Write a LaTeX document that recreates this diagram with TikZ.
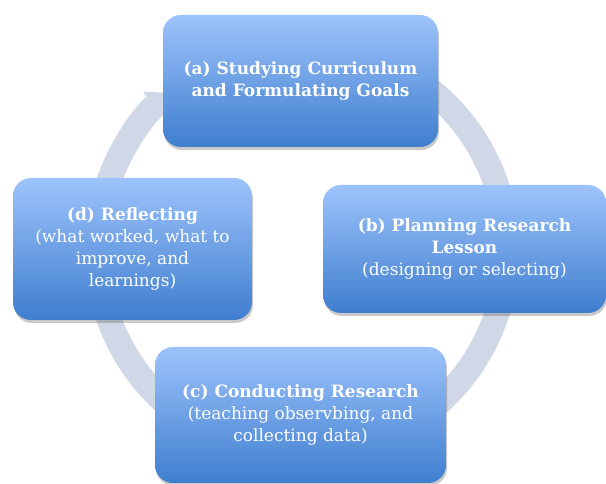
\documentclass[tikz,border=0pt]{standalone}
\usepackage{fontspec}
\setmainfont{DejaVu Serif}
\usetikzlibrary{arrows.meta,shadows}

\definecolor{boxtop}{HTML}{9DC3FC}
\definecolor{boxbottom}{HTML}{3F7ECE}
\definecolor{ringgray}{HTML}{D0D8E8}

\begin{document}
\begin{tikzpicture}[x=1pt,y=1pt,
		stagebox/.style={rounded corners=18pt,top color=boxtop,bottom color=boxbottom,
			text=white,align=center,inner sep=0pt,font=\fontsize{17}{22}\selectfont,
			drop shadow={shadow xshift=1pt,shadow yshift=-3pt,opacity=0.3,fill=black!70}},
		ringarrow/.style={line width=25pt,ringgray,-{Triangle[width=36pt,length=20pt]}}]
				\useasboundingbox (0,0) rectangle (606,484);
				\coordinate (ctr) at (302,234);
				
				%Kreispfeil zeichnen
				\draw[ringarrow] ([shift={(ctr)}]70:205) arc[start angle=70,end angle=-230,radius=205];
				
				%Kaesten zeichnen
				\node[stagebox,minimum width=275pt,minimum height=132pt] (study) at (300.5,403)
					{\textbf{(a) Studying Curriculum}\\\textbf{and Formulating Goals}};
				\node[stagebox,minimum width=283pt,minimum height=128pt] (plan) at (464.5,235)
					{\textbf{(b) Planning Research}\\\textbf{Lesson}\\(designing or selecting)};
				\node[stagebox,minimum width=291pt,minimum height=136pt] (conduct) at (300.5,69)
					{\textbf{(c) Conducting Research}\\(teaching observbing, and\\collecting data)};
				\node[stagebox,minimum width=239pt,minimum height=142pt] (reflect) at (132.5,235)
					{\textbf{(d) Reflecting}\\(what worked, what to\\improve, and\\learnings)};
	\end{tikzpicture}
\end{document}
